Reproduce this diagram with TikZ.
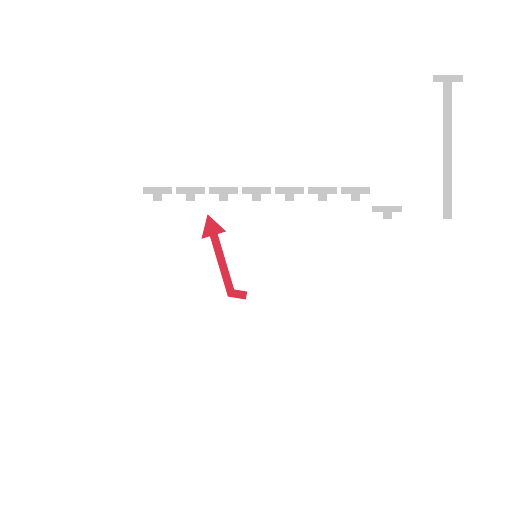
\documentclass[tikz,border=0pt]{standalone}
\usepackage{tikz}
\usetikzlibrary{arrows.meta,positioning}
\definecolor{bargray}{RGB}{200,200,200}
\definecolor{pointred}{RGB}{220,59,82}
\tikzset{
  barcap/.style={fill=bargray, draw=none},
  barstem/.style={bargray, line width=9pt},
  pointer/.style={pointred, line width=8pt, -{Triangle[length=22pt,width=24pt]}}
}
\begin{document}
\begin{tikzpicture}[x=1pt,y=-1pt]
    \useasboundingbox (0,0) rectangle (512,512);
    % small bars
    \foreach \cx in {157.5,190.5,223,256,289,322,355} {
        \fill[barcap] (\cx-14.5,187) rectangle (\cx+14.5,193.5);
        \draw[barstem] (\cx,193) -- (\cx,200.5);
    }
    \fill[barcap] (372,206) rectangle (401.5,212);
    \draw[barstem] (387,211.5) -- (387,219);
    % tall bar
    \fill[barcap] (433,75) rectangle (462.5,81.5);
    \draw[barstem] (447.5,81) -- (447.5,219);
    % arrow
    \coordinate (tail) at (246.5,295.5);
    \coordinate (bend) at (231,293);
    \coordinate (tip) at (207.5,214);
    \draw[pointer] (tail) -- (bend) -- (tip);
\end{tikzpicture}
\end{document}
